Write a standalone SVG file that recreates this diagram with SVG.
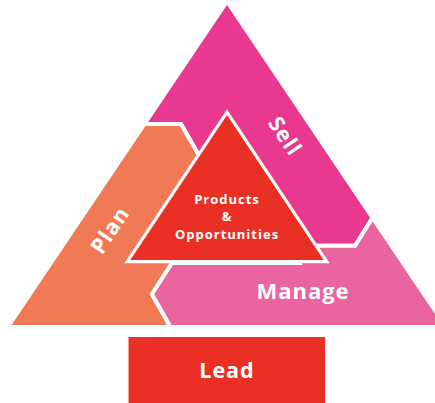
<svg xmlns="http://www.w3.org/2000/svg" width="435" height="403" viewBox="0 0 435 403">
  <style>
    .region { stroke: #ffffff; stroke-width: 4; stroke-linejoin: miter; }
    .sell { fill: #E8388F; }
    .manage { fill: #EA64A0; }
    .plan { fill: #F07A56; }
    .core { fill: #EA3025; stroke: #ffffff; stroke-width: 6.4; stroke-linejoin: miter; paint-order: stroke; }
    .lead { fill: #EA3025; }
    .lbl { font-family: "Open Sans", "Liberation Sans", sans-serif; font-weight: 700; fill: #ffffff; text-anchor: middle; letter-spacing: 1px; }
  </style>
  <rect width="435" height="403" fill="#ffffff"/>
  <g id="sell">
    <polygon class="region sell" points="227,1.4 372.6,217.8 355,245.8 300,245.8 215,185 197.5,153 181,124 144.5,124"/>
    <text class="lbl" font-size="21.5" transform="translate(285,136) rotate(56)" x="0" y="7.5">Sell</text>
  </g>
  <g id="plan">
    <polygon class="region plan" points="144.5,124 181,124 197.5,153 215,185 200,240 172,263 152,294 170.5,327 7.9,327"/>
    <text class="lbl" font-size="21.5" transform="translate(110,230) rotate(-56)" x="0" y="7.5">Plan</text>
  </g>
  <g id="manage">
    <polygon class="region manage" points="172,263 152,294 170.5,327 446.1,327 372.6,217.8 355,245.8 300,245.8 300,263"/>
    <text class="lbl" font-size="22" x="303" y="299">Manage</text>
  </g>
  <g id="products">
    <polygon class="core" points="227,115 130.3,260 323.7,260"/>
    <text class="lbl" font-size="13" x="227" y="204">Products</text>
    <text class="lbl" font-size="13" x="227" y="221">&amp;</text>
    <text class="lbl" font-size="13" x="227" y="239">Opportunities</text>
  </g>
  <g id="lead">
    <rect class="lead" x="128.5" y="337" width="196.5" height="66"/>
    <text class="lbl" font-size="21.5" x="227" y="377.5">Lead</text>
  </g>
  <g id="connectors"/>
</svg>
